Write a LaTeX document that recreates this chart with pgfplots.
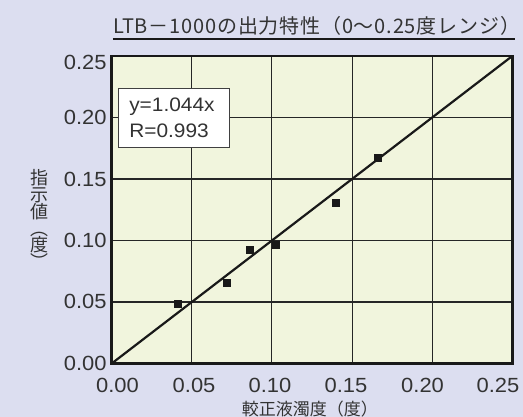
\documentclass[border=0pt]{standalone}
\usepackage{fontspec}
\setmainfont{Noto Sans CJK JP}
\newfontfamily\lat{Liberation Sans}[FakeStretch=1.07]
\newfontfamily\titlefont{Noto Sans CJK JP}[LetterSpace=4]
\usepackage{pgfplots}
\pgfplotsset{compat=1.18}
\definecolor{bg}{HTML}{DCDEF0}
\definecolor{plotbg}{HTML}{F1F5DD}
\definecolor{txt}{HTML}{333333}
\begin{document}
\begin{tikzpicture}
\fill[bg] (-111.7bp,-53.5bp) rectangle (411.3bp,363.5bp);
\begin{axis}[
  at={(0,0)}, anchor=south west,
  scale only axis, width=400.6bp, height=307.5bp,
  xmin=0, xmax=0.25, ymin=0, ymax=0.25,
  xtick={0,0.05,0.10,0.15,0.20,0.25},
  ytick={0,0.05,0.10,0.15,0.20,0.25},
  xticklabels={}, yticklabels={},
  extra x ticks={0.0036,0.0514,0.0988,0.1462,0.1940,0.2411},
  extra x tick labels={0.00,0.05,0.10,0.15,0.20,0.25},
  extra y ticks={0,0.0502,0.1004,0.1498,0.2002,0.2446},
  extra y tick labels={0.00,0.05,0.10,0.15,0.20,0.25},
  extra x tick style={grid=none},
  extra y tick style={grid=none},
  ticklabel style={font=\lat\fontsize{20.5bp}{22bp}\selectfont, text=txt, inner sep=0pt},
  xticklabel style={anchor=base, yshift=-28.5bp},
  yticklabel style={anchor=east, xshift=-5bp},
  major tick length=0pt,
  grid=major,
  grid style={black!85, line width=1.1bp},
  axis line style={line width=2.6bp, black!90},
  axis background/.style={fill=plotbg},
  clip=false,
]
\addplot[black!90, line width=2.2bp] coordinates {(0,0) (0.25,0.25)};
\addplot[only marks, mark=square*, mark size=3.6bp, black!90, mark options={draw=none}] coordinates {
  (0.0412,0.0484)
  (0.0718,0.0657)
  (0.0861,0.0925)
  (0.1021,0.0966)
  (0.1398,0.1307)
  (0.1660,0.1673)
};
\node[draw=black!75, line width=1bp, fill=white, anchor=north west,
  minimum width=103.4bp, minimum height=59.6bp, text width=90bp, inner xsep=10.5bp,
  align=left, font=\lat\fontsize{19.5bp}{26.5bp}\selectfont, text=txt]
  at ([xshift=6.6bp,yshift=-31.7bp]rel axis cs:0,1) {y=1.044x\\R=0.993};
\node[font=\titlefont\fontsize{20bp}{24bp}\selectfont, text=txt, anchor=base west, inner sep=0pt]
  at ([xshift=1.3bp,yshift=22bp]rel axis cs:0,1) {LTB－1000の出力特性（0～0.25度レンジ）};
\draw[black!90, line width=2.2bp] ([xshift=1.3bp,yshift=16.7bp]rel axis cs:0,1) -- ([xshift=2.7bp,yshift=16.7bp]rel axis cs:1,1);
\node[font=\fontsize{17bp}{18bp}\selectfont, text=txt]
  at ([yshift=-45.5bp]rel axis cs:0.495,0) {較正液濁度（度）};
\node[font=\fontsize{18bp}{16.5bp}\selectfont, text=txt, align=center]
  at ([xshift=-71.7bp,yshift=144.5bp]rel axis cs:0,0) {指\\示\\値\\︵\\度\\︶};
\end{axis}
\pgfresetboundingbox
\path[use as bounding box] (-111.7bp,-53.5bp) rectangle (411.3bp,363.5bp);
\end{tikzpicture}
\end{document}
